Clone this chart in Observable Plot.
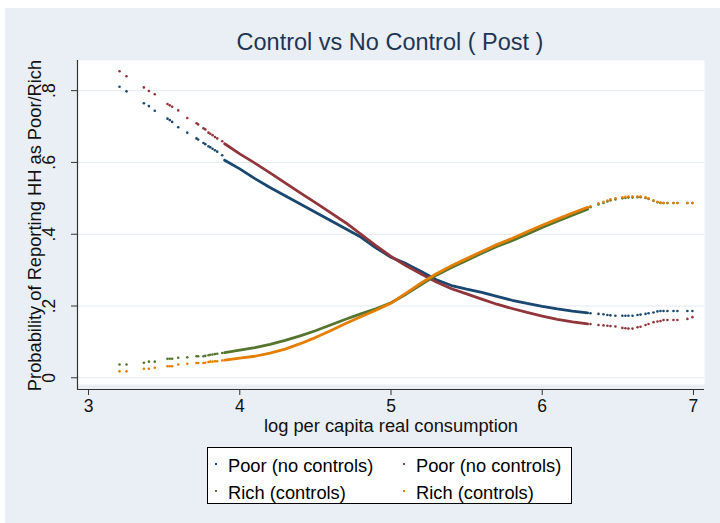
<!DOCTYPE html>
<html>
<head>
<meta charset="utf-8">
<script src="https://cdn.jsdelivr.net/npm/d3@7"></script>
<script src="https://cdn.jsdelivr.net/npm/@observablehq/plot@0.6"></script>
<style>
html, body { margin: 0; padding: 0; background: #ffffff; }
body { width: 720px; height: 523px; position: relative; overflow: hidden; font-family: "Liberation Sans", Arial, sans-serif; }
#bg { position: absolute; left: 5px; top: 8px; width: 715px; height: 515px; background: #eaeff5; }
#title { position: absolute; left: 140px; width: 500px; top: 29px; text-align: center; font-size: 23.5px; line-height: 26px; color: #1f3553; white-space: nowrap; }
#chart { position: absolute; left: 0; top: 55px; }
#legend { position: absolute; left: 207px; top: 447px; width: 363px; height: 55px; border: 1px solid #000; background: #ffffff; }
.item { position: absolute; font-size: 18.3px; line-height: 20px; color: #000; white-space: nowrap; }
.mk { position: absolute; width: 2px; height: 2px; }
</style>
</head>
<body>
<div id="bg"></div>
<div id="title"></div>
<div id="chart"></div>
<div id="legend"></div>
<script>
// ---- text ----
const titleText = "Control vs No Control ( Post )";
const xTitle = "log per capita real consumption";
const yTitle = "Probability of Reporting HH as Poor/Rich";
const legendLabels = ["Poor (no controls)", "Poor (no controls)", "Rich (controls)", "Rich (controls)"];

// ---- axes ----
const xTicks = [3, 4, 5, 6, 7];
const yTicks = [0, 0.2, 0.4, 0.6, 0.8];
const xDomain = [2.927, 7.073];
const yDomain = [-0.0187, 0.884];

// ---- observation positions (log per capita real consumption) ----
const xLeft = [3.205, 3.251, 3.366, 3.399, 3.438, 3.522, 3.537, 3.553, 3.593, 3.653, 3.714, 3.725, 3.760, 3.772, 3.793, 3.805, 3.820, 3.836, 3.851, 3.884];
const xDense = [3.9, 4.0, 4.1, 4.2, 4.3, 4.4, 4.5, 4.6, 4.7, 4.8, 4.9, 5.0, 5.1, 5.2, 5.3, 5.4, 5.5, 5.6, 5.7, 5.8, 5.9, 6.0, 6.1, 6.2, 6.3];
const xRight = [6.319, 6.372, 6.405, 6.431, 6.451, 6.484, 6.530, 6.550, 6.570, 6.597, 6.630, 6.650, 6.683, 6.703, 6.736, 6.762, 6.782, 6.802, 6.828, 6.868, 6.894, 6.960, 6.993];

// ---- Poor (no controls) – navy ----
const poorALeft = [0.811, 0.798, 0.765, 0.757, 0.744, 0.722, 0.718, 0.713, 0.698, 0.683, 0.667, 0.664, 0.654, 0.651, 0.645, 0.642, 0.638, 0.634, 0.630, 0.620];
const poorADense = [0.606, 0.582, 0.555, 0.530, 0.507, 0.484, 0.461, 0.438, 0.415, 0.392, 0.362, 0.336, 0.318, 0.296, 0.273, 0.257, 0.247, 0.238, 0.227, 0.216, 0.207, 0.199, 0.192, 0.186, 0.181];
const poorARight = [0.180, 0.178, 0.177, 0.175, 0.174, 0.173, 0.173, 0.173, 0.173, 0.173, 0.175, 0.176, 0.178, 0.180, 0.182, 0.185, 0.186, 0.186, 0.186, 0.186, 0.186, 0.186, 0.186];

// ---- Poor (no controls) – maroon ----
const poorBLeft = [0.854, 0.840, 0.809, 0.799, 0.790, 0.763, 0.759, 0.755, 0.745, 0.724, 0.709, 0.706, 0.695, 0.692, 0.683, 0.680, 0.676, 0.671, 0.667, 0.659];
const poorBDense = [0.652, 0.624, 0.598, 0.571, 0.543, 0.515, 0.488, 0.460, 0.432, 0.400, 0.368, 0.338, 0.312, 0.289, 0.267, 0.248, 0.234, 0.219, 0.205, 0.193, 0.182, 0.172, 0.163, 0.156, 0.150];
const poorBRight = [0.150, 0.147, 0.146, 0.145, 0.144, 0.143, 0.139, 0.138, 0.137, 0.137, 0.141, 0.142, 0.147, 0.150, 0.155, 0.157, 0.158, 0.161, 0.161, 0.161, 0.161, 0.164, 0.169];

// ---- Rich (controls) – forest green ----
const richALeft = [0.037, 0.037, 0.042, 0.045, 0.045, 0.053, 0.053, 0.053, 0.056, 0.057, 0.060, 0.060, 0.060, 0.061, 0.063, 0.064, 0.065, 0.066, 0.067, 0.069];
const richADense = [0.070, 0.077, 0.084, 0.093, 0.104, 0.117, 0.131, 0.147, 0.163, 0.178, 0.192, 0.209, 0.233, 0.260, 0.286, 0.307, 0.327, 0.347, 0.366, 0.382, 0.400, 0.419, 0.436, 0.453, 0.470];
const richARight = [0.475, 0.483, 0.487, 0.491, 0.494, 0.497, 0.500, 0.501, 0.502, 0.502, 0.503, 0.503, 0.501, 0.498, 0.493, 0.489, 0.487, 0.487, 0.487, 0.487, 0.487, 0.487, 0.487];

// ---- Rich (controls) – dark orange ----
const richBLeft = [0.018, 0.018, 0.025, 0.025, 0.028, 0.032, 0.032, 0.032, 0.037, 0.039, 0.041, 0.041, 0.041, 0.042, 0.044, 0.045, 0.045, 0.046, 0.046, 0.048];
const richBDense = [0.049, 0.055, 0.060, 0.069, 0.080, 0.095, 0.112, 0.131, 0.151, 0.170, 0.188, 0.208, 0.236, 0.264, 0.290, 0.312, 0.332, 0.352, 0.371, 0.388, 0.407, 0.425, 0.442, 0.459, 0.475];
const richBRight = [0.478, 0.486, 0.490, 0.494, 0.497, 0.500, 0.503, 0.504, 0.505, 0.505, 0.505, 0.505, 0.503, 0.500, 0.494, 0.490, 0.488, 0.487, 0.487, 0.487, 0.487, 0.487, 0.487];

const colors = ["#1a476f", "#90353b", "#55752f", "#e37e00"];

const series = [
  {left: poorALeft, dense: poorADense, right: poorARight},
  {left: poorBLeft, dense: poorBDense, right: poorBRight},
  {left: richALeft, dense: richADense, right: richARight},
  {left: richBLeft, dense: richBDense, right: richBRight}
].map((s, i) => ({
  color: colors[i],
  label: legendLabels[i],
  sparse: xLeft.map((x, j) => ({x, y: s.left[j]})).concat(xRight.map((x, j) => ({x, y: s.right[j]}))),
  dense: xDense.map((x, j) => ({x, y: s.dense[j]}))
}));

document.getElementById("title").textContent = titleText;

const fmtY = d => d === 0 ? "0" : d3.format(".1f")(d).replace(/^0/, "");
const fmtX = d => String(d);

const marks = [
  Plot.frame({fill: "#ffffff", stroke: null}),
  Plot.gridY(yTicks, {stroke: "#e3e9f0", strokeOpacity: 1, strokeWidth: 1}),
  Plot.ruleX([xDomain[0]], {stroke: "#333", strokeWidth: 1.2, insetBottom: -5}),
  Plot.ruleY([yDomain[0]], {stroke: "#333", strokeWidth: 1.2, dy: 5}),
  Plot.axisY(yTicks, {tickSize: 6, tickRotate: -90, tickFormat: fmtY, tickPadding: 17, label: null, fill: "#111", stroke: "#333", fontSize: 17.5}),
  Plot.axisX(xTicks, {tickSize: 6, dy: 5, tickPadding: 4, tickFormat: fmtX, label: null, fill: "#111", stroke: "#333", fontSize: 17.5}),
  Plot.text([xTitle], {text: d => d, frameAnchor: "bottom", dy: 47, fill: "#111", fontSize: 18.3}),
  Plot.text([yTitle], {text: d => d, frameAnchor: "left", textAnchor: "middle", rotate: -90, dx: -42, dy: 3, fill: "#111", fontSize: 18.3})
];
for (const s of series) {
  marks.push(Plot.line(s.dense, {x: "x", y: "y", stroke: s.color, strokeWidth: 2.8}));
  marks.push(Plot.dot(s.sparse, {x: "x", y: "y", r: 1.3, fill: s.color, stroke: null}));
}

const chart = Plot.plot({
  width: 720,
  height: 390,
  marginLeft: 77,
  marginRight: 16,
  marginTop: 5,
  marginBottom: 61,
  x: {domain: xDomain},
  y: {domain: yDomain},
  style: {background: "transparent", fontFamily: "'Liberation Sans', Arial, sans-serif", fontSize: "18px", overflow: "visible"},
  marks
});
document.getElementById("chart").appendChild(chart);

// legend
const legend = document.getElementById("legend");
const pos = [[7, 8], [195, 8], [7, 35], [195, 35]];
series.forEach((s, i) => {
  const [lx, ly] = pos[i];
  const mk = document.createElement("div");
  mk.className = "mk";
  mk.style.left = lx + "px";
  mk.style.top = (ly + 7) + "px";
  mk.style.background = s.color;
  legend.appendChild(mk);
  const t = document.createElement("div");
  t.className = "item";
  t.style.left = (lx + 13) + "px";
  t.style.top = (ly) + "px";
  t.textContent = s.label;
  legend.appendChild(t);
});
</script>
</body>
</html>
